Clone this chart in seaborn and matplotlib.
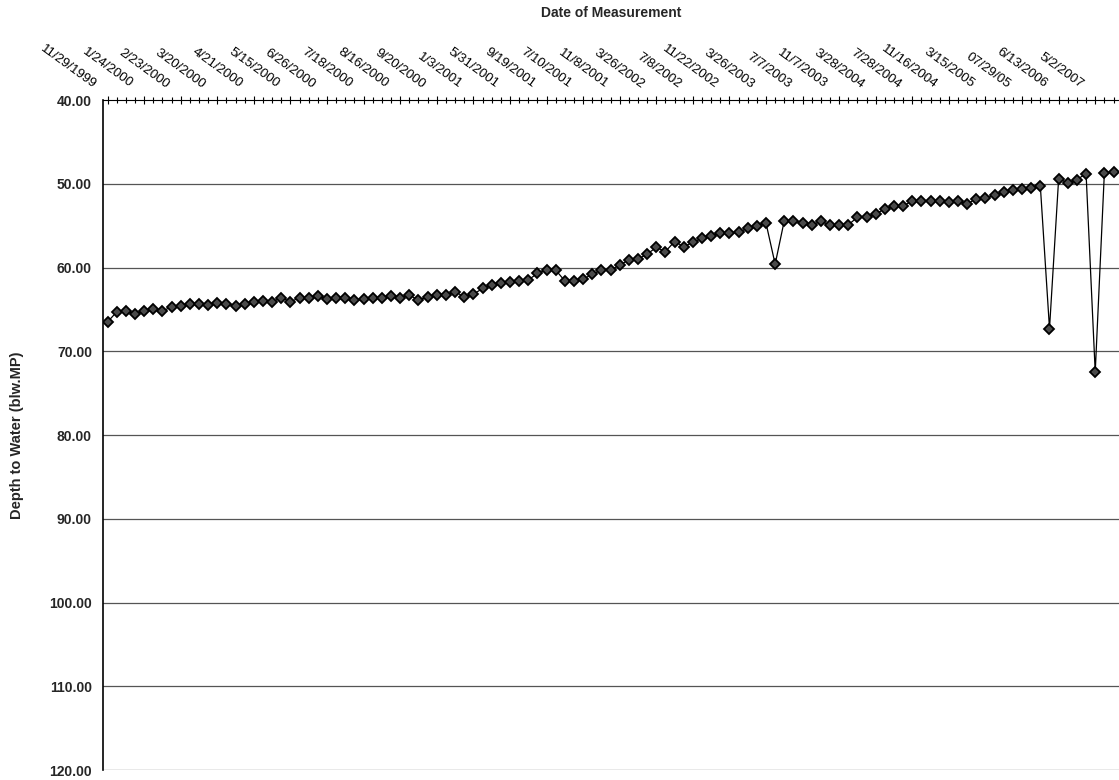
#importing libraries
import numpy as np
import matplotlib
matplotlib.use("Agg")
import matplotlib.pyplot as plt
import matplotlib.transforms as mtransforms
import seaborn as sns

# dates shown on the top axis (every 4th measurement)
date_labels = ["11/29/1999", "1/24/2000", "2/23/2000", "3/20/2000", "4/21/2000",
               "5/15/2000", "6/26/2000", "7/18/2000", "8/16/2000", "9/20/2000",
               "1/3/2001", "5/31/2001", "9/19/2001", "7/10/2001", "11/8/2001",
               "3/26/2002", "7/8/2002", "11/22/2002", "3/26/2003", "7/7/2003",
               "11/7/2003", "3/28/2004", "7/28/2004", "11/16/2004", "3/15/2005",
               "07/29/05", "6/13/2006", "5/2/2007"]

# depth to water below measuring point, one value per measurement
depth = [66.5, 65.3, 65.2, 65.5, 65.2, 64.9, 65.2, 64.7, 64.6, 64.4,
         64.3, 64.5, 64.2, 64.3, 64.6, 64.3, 64.1, 64.0, 64.1, 63.6,
         64.1, 63.6, 63.6, 63.4, 63.8, 63.6, 63.7, 63.9, 63.8, 63.6,
         63.6, 63.4, 63.6, 63.3, 63.9, 63.5, 63.3, 63.3, 62.9, 63.5,
         63.2, 62.5, 62.1, 61.9, 61.7, 61.6, 61.5, 60.7, 60.3, 60.3,
         61.6, 61.6, 61.4, 60.8, 60.3, 60.3, 59.7, 59.1, 59.0, 58.4,
         57.6, 58.1, 56.9, 57.5, 57.0, 56.5, 56.2, 55.9, 55.9, 55.8,
         55.3, 55.1, 54.7, 59.6, 54.4, 54.4, 54.7, 54.9, 54.5, 54.9,
         54.9, 54.9, 54.0, 54.0, 53.6, 53.0, 52.7, 52.6, 52.1, 52.0,
         52.0, 52.1, 52.2, 52.1, 52.4, 51.8, 51.7, 51.4, 51.0, 50.8,
         50.6, 50.5, 50.3, 67.3, 49.4, 49.9, 49.5, 48.8, 72.5, 48.7,
         48.6]

label_step = 4
y_ticks = [40, 50, 60, 70, 80, 90, 100, 110, 120]

sns.set_style("white")
plt.rcParams['font.family'] = ['Liberation Sans', 'DejaVu Sans']

fig = plt.figure(figsize=(11.19, 7.80), dpi=100)
ax = fig.add_axes([103 / 1119, 10 / 780, 1 - 103 / 1119, 670 / 780])

idx = np.arange(len(depth))

# horizontal gridlines
for v in y_ticks[1:]:
    ax.axhline(v, color="#555555", linewidth=0.9, zorder=1)

sns.lineplot(x=idx, y=depth, ax=ax, color="black", linewidth=0.9,
             marker="D", markersize=5.5, markerfacecolor="#4a4a4a",
             markeredgecolor="black", markeredgewidth=1.3, zorder=3)

ax.set_ylim(120, 40)
ax.set_xlim(-0.5, len(depth) - 0.4)
ax.set_yticks(y_ticks)
ax.set_yticklabels([f"{v:.2f}" for v in y_ticks], fontsize=10, fontweight="bold")

# category axis along the top
ax.xaxis.tick_top()
ax.xaxis.set_label_position("top")
ax.set_xticks(idx[::label_step])
ax.set_xticks(idx, minor=True)
ax.tick_params(axis="x", which="both", direction="inout", length=6,
               width=0.8, pad=8, colors="black")
ax.tick_params(axis="x", which="minor", length=5)
ax.tick_params(axis="y", direction="out", length=4, width=0.8, pad=4)
ax.set_xticklabels(date_labels, rotation=-36, ha="right", va="center",
                   rotation_mode="anchor", fontsize=9.5)
# shift the date labels a little to the left, as in the original
shift = mtransforms.ScaledTranslation(-13 / 100, -1 / 100, fig.dpi_scale_trans)
for lbl in ax.get_xticklabels():
    lbl.set_transform(lbl.get_transform() + shift)

ax.spines["right"].set_visible(False)
ax.spines["bottom"].set_visible(False)
ax.spines["top"].set_color("black")
ax.spines["left"].set_color("black")
ax.spines["left"].set_linewidth(1.2)

ax.set_xlabel("Date of Measurement", fontsize=10, fontweight="bold", labelpad=18)
ax.set_ylabel("Depth to Water (blw.MP)", fontsize=10.5, fontweight="bold", labelpad=18)

fig.savefig("out.png", dpi=100)
